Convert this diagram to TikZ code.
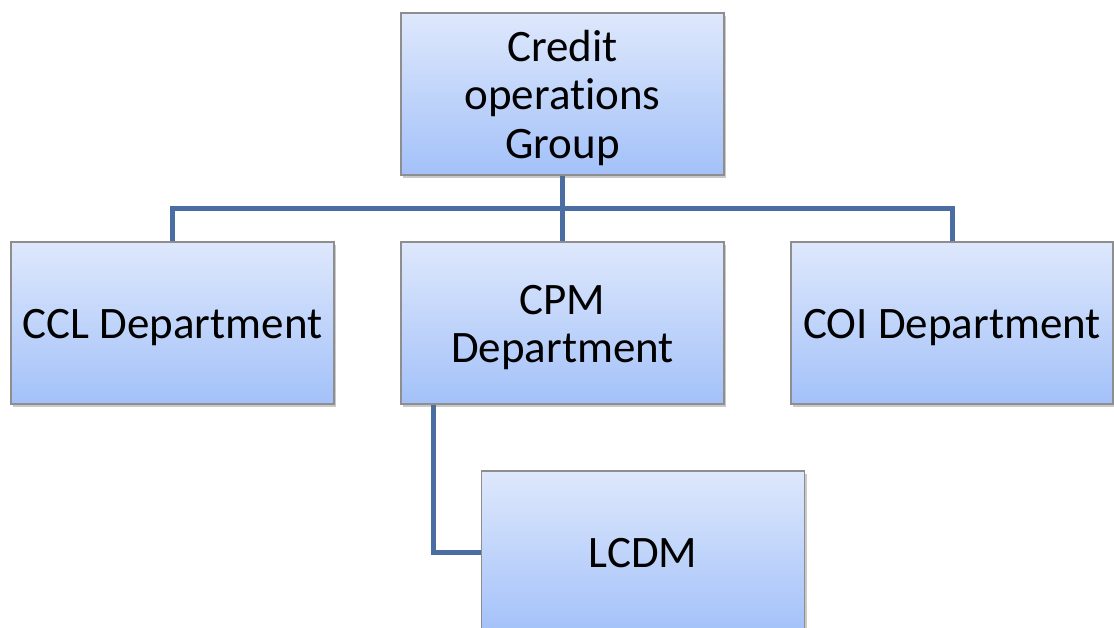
\documentclass[tikz,border=0pt]{standalone}
\usepackage{fontspec}
\setmainfont{Carlito}[RawFeature=-liga]
\usetikzlibrary{shadows,backgrounds}
\definecolor{boxtop}{HTML}{DEE8FC}
\definecolor{boxbot}{HTML}{A3C1F9}
\definecolor{boxedge}{HTML}{8E8E8E}
\definecolor{conncol}{HTML}{4A6EA3}
\newcommand{\orgtext}[1]{\raisebox{-6pt}[\height][\depth]{\begin{tabular}{@{}c@{}}#1\end{tabular}}}
\tikzset{
  orgbox/.style={draw=boxedge, line width=1.2pt, top color=boxtop, bottom color=boxbot,
    minimum width=323pt, minimum height=162pt, inner sep=0pt,
    font=\fontsize{45}{48.5}\selectfont,
    drop shadow={shadow xshift=2pt, shadow yshift=-3pt, opacity=0.35, fill=black!60}},
  conn/.style={draw=conncol, line width=5pt}
}
\begin{document}
\begin{tikzpicture}[x=1pt,y=-1pt]
\useasboundingbox (0,0) rectangle (1114,628);
\clip (0,0) rectangle (1114,628);
\node[orgbox] (top) at (562.5,94) {\orgtext{Credit\\operations\\Group}};
\node[orgbox] (ccl) at (172.5,323) {\orgtext{CCL Department}};
\node[orgbox] (cpm) at (562.5,323) {\orgtext{CPM\\Department}};
\node[orgbox, minimum width=322pt] (coi) at (952,323) {\orgtext{COI Department}};
\node[orgbox] (lcdm) at (643,552) {\orgtext{LCDM}};
\coordinate (bus) at (562.5,209);
\begin{pgfonlayer}{background}
\fill[white] (0,0) rectangle (1114,628);
\draw[conn] (top.south) -- (bus);
\draw[conn] (ccl.north) |- (bus) -| (coi.north);
\draw[conn] (bus) -- (cpm.north);
\draw[conn] ([xshift=33pt]cpm.south west) |- (lcdm.west);
\end{pgfonlayer}
\end{tikzpicture}
\end{document}
